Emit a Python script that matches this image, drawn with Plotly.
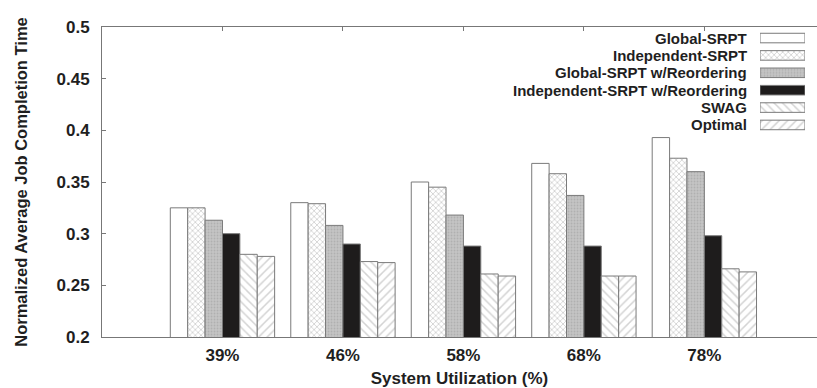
import plotly.graph_objects as go

# Data: normalized average job completion time per scheduler and utilization level
utilization = ["39%", "46%", "58%", "68%", "78%"]
global_srpt = [0.325, 0.330, 0.350, 0.368, 0.393]
independent_srpt = [0.325, 0.329, 0.345, 0.358, 0.373]
global_srpt_reorder = [0.313, 0.308, 0.318, 0.337, 0.360]
independent_srpt_reorder = [0.300, 0.290, 0.288, 0.288, 0.298]
swag = [0.280, 0.273, 0.261, 0.259, 0.266]
optimal = [0.278, 0.272, 0.259, 0.259, 0.263]

series_names = [
    "Global-SRPT",
    "Independent-SRPT",
    "Global-SRPT w/Reordering",
    "Independent-SRPT w/Reordering",
    "SWAG",
    "Optimal",
]
series_values = [global_srpt, independent_srpt, global_srpt_reorder,
                 independent_srpt_reorder, swag, optimal]

# Fill styles imitating classic print hatching
styles = [
    dict(color="white", pattern=dict(shape="")),
    dict(color="white", pattern=dict(shape="x", fgcolor="#9a9a9a", bgcolor="white", size=4, solidity=0.35)),
    dict(color="#bdbdbd", pattern=dict(shape=".", fgcolor="#9c9c9c", bgcolor="#c4c4c4", size=3, solidity=0.3)),
    dict(color="#1e1c1c", pattern=dict(shape="")),
    dict(color="white", pattern=dict(shape="\\", fgcolor="#a8a8a8", bgcolor="white", size=6, solidity=0.25)),
    dict(color="white", pattern=dict(shape="/", fgcolor="#a8a8a8", bgcolor="white", size=6, solidity=0.25)),
]
outline = dict(color="#7a7a7a", width=1)

FONT = "Liberation Sans"
TXT = "#1f1f1f"
x_pos = list(range(len(utilization)))

fig = go.Figure()
for name, vals, st in zip(series_names, series_values, styles):
    fig.add_trace(go.Bar(
        x=x_pos, y=vals, name=name, showlegend=False,
        marker=dict(color=st["color"], pattern=st["pattern"], line=outline),
    ))

# Custom legend: label on the left, swatch on the right
for i, (name, st) in enumerate(zip(series_names, styles)):
    fig.add_trace(go.Bar(
        x=[1], y=[i], base=[0], orientation="h", width=0.55,
        xaxis="x2", yaxis="y2", showlegend=False, hoverinfo="skip",
        marker=dict(color=st["color"], pattern=st["pattern"], line=outline),
    ))
    fig.add_annotation(
        text="<b>%s</b>" % name, xref="paper", yref="y2", x=0.9035, y=i,
        xanchor="right", yanchor="middle", showarrow=False, borderpad=0,
        font=dict(family=FONT, size=15, color=TXT),
    )

fig.update_layout(
    width=817, height=388,
    margin=dict(l=102, r=0, t=27, b=51),
    paper_bgcolor="white", plot_bgcolor="white",
    barmode="group", bargap=0.134, bargroupgap=0,
    font=dict(family=FONT, size=17, color=TXT),
    xaxis=dict(
        range=[-1, 4.935], tickvals=x_pos,
        ticktext=["<b>%s</b>" % u for u in utilization],
        showline=True, linecolor="#777777", linewidth=1, mirror="allticks",
        ticks="inside", ticklen=4, tickcolor="#777777",
        showgrid=False, zeroline=False, ticklabelstandoff=3,
        title=dict(text="<b>System Utilization (%)</b>", font=dict(size=17), standoff=9),
    ),
    yaxis=dict(
        range=[0.2, 0.5], tickvals=[0.2, 0.25, 0.3, 0.35, 0.4, 0.45, 0.5],
        ticktext=["<b>%s</b>" % t for t in ["0.2", "0.25", "0.3", "0.35", "0.4", "0.45", "0.5"]],
        showline=True, linecolor="#777777", linewidth=1,
        ticks="inside", ticklen=4, tickcolor="#777777",
        showgrid=False, zeroline=False, ticklabelstandoff=8,
        title=dict(text="<b>Normalized Average Job Completion Time</b>", font=dict(size=16.5), standoff=24),
    ),
    xaxis2=dict(domain=[0.9203, 0.9832], range=[0, 1], visible=False, fixedrange=True),
    yaxis2=dict(domain=[0.6560, 0.9924], range=[5.5, -0.5], visible=False, fixedrange=True),
)

fig.write_html("out.html")
